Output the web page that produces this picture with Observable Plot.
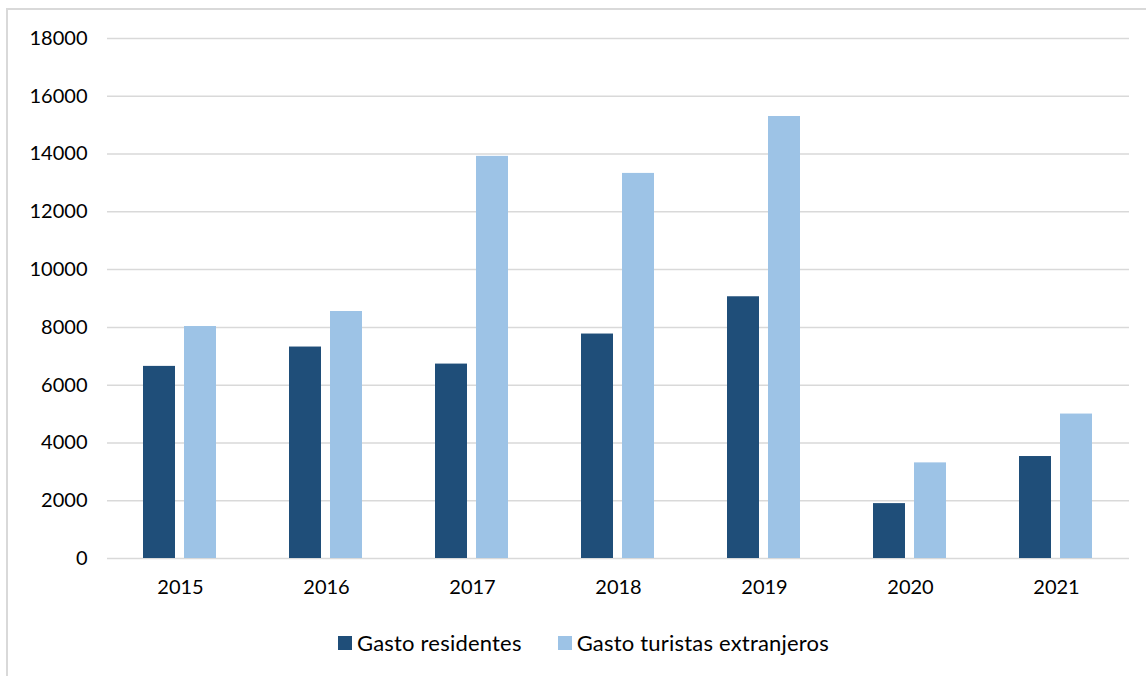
<!DOCTYPE html>
<html>
<head>
<meta charset="utf-8">
<script src="https://cdn.jsdelivr.net/npm/d3@7"></script>
<script src="https://cdn.jsdelivr.net/npm/@observablehq/plot@0.6"></script>
<style>
  html, body { margin: 0; padding: 0; background: #fff; }
  body { width: 1146px; height: 676px; position: relative; overflow: hidden; font-family: Lato, "Open Sans", sans-serif; }
  #frame { position: absolute; left: 6px; top: 8px; width: 1200px; height: 720px; border-left: 2px solid #d9d9d9; border-top: 2px solid #d9d9d9; }
  #chart { position: absolute; left: 0; top: 0; }
  #legend { position: absolute; left: 338px; top: 629px; display: flex; align-items: center; font-size: 22px; letter-spacing: 0.2px; color: #000; white-space: nowrap; }
  #legend .item { display: flex; align-items: center; margin-right: 36px; }
  #legend .sw { width: 14px; height: 14px; margin-right: 5px; display: inline-block; }
</style>
</head>
<body>
<div id="frame"></div>
<div id="chart"></div>
<div id="legend"></div>
<script>
const years = ["2015", "2016", "2017", "2018", "2019", "2020", "2021"];
const series = ["Gasto residentes", "Gasto turistas extranjeros"];
const residentes = [6650, 7320, 6730, 7770, 9060, 1900, 3530];
const turistas = [8030, 8550, 13920, 13330, 15300, 3310, 5000];
const colors = ["#1F4E79", "#9DC3E6"];
const yTicks = [0, 2000, 4000, 6000, 8000, 10000, 12000, 14000, 16000, 18000];

const data = [];
years.forEach((yr, i) => {
  data.push({year: yr, series: series[0], value: residentes[i]});
  data.push({year: yr, series: series[1], value: turistas[i]});
});

const chart = Plot.plot({
  width: 1146,
  height: 620,
  marginLeft: 107,
  marginRight: 17,
  marginTop: 38,
  marginBottom: 62,
  style: {fontFamily: "Lato, 'Open Sans', sans-serif", fontSize: "20px", color: "#000", background: "transparent"},
  fx: {domain: years, padding: 0, label: null},
  x: {domain: series, paddingInner: 0.216, paddingOuter: 0.86, axis: null},
  y: {domain: [0, 18000], label: null},
  color: {domain: series, range: colors},
  marks: [
    Plot.gridY(yTicks, {stroke: "#d9d9d9", strokeOpacity: 1, strokeWidth: 1.5}),
    Plot.axisY(yTicks, {tickSize: 0, tickPadding: 20, tickFormat: d => String(d), fontSize: 20, label: null, fill: "#000"}),
    Plot.axisFx({anchor: "bottom", tickSize: 0, tickPadding: 21, fontSize: 20, label: null, fill: "#000"}),
    Plot.barY(data, {fx: "year", x: "series", y: "value", fill: "series"})
  ]
});
document.getElementById("chart").appendChild(chart);

const legend = document.getElementById("legend");
series.forEach((s, i) => {
  const item = document.createElement("span");
  item.className = "item";
  const sw = document.createElement("span");
  sw.className = "sw";
  sw.style.background = colors[i];
  item.appendChild(sw);
  item.appendChild(document.createTextNode(s));
  legend.appendChild(item);
});
</script>
</body>
</html>
